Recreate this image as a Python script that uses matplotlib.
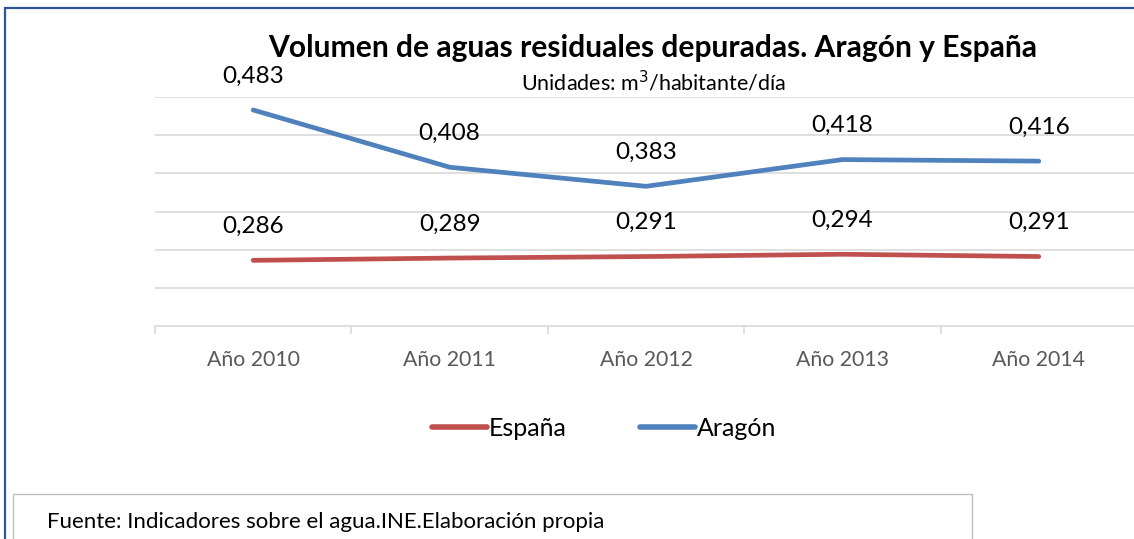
import matplotlib
matplotlib.use("Agg")
import matplotlib.pyplot as plt
from matplotlib.patches import Rectangle
from matplotlib.lines import Line2D

categories = ["Año 2010", "Año 2011", "Año 2012", "Año 2013", "Año 2014"]
espana = [0.286, 0.289, 0.291, 0.294, 0.291]
aragon = [0.483, 0.408, 0.383, 0.418, 0.416]
espana_labels = ["0,286", "0,289", "0,291", "0,294", "0,291"]
aragon_labels = ["0,483", "0,408", "0,383", "0,418", "0,416"]

plt.rcParams['font.family'] = ['Lato', 'DejaVu Sans']

W, H = 1134, 539
fig = plt.figure(figsize=(W / 100, H / 100), dpi=100)

def fx(px):
    return px / W

def fy(py):
    return 1 - py / H

# outer border
fig.add_artist(Rectangle((fx(5), fy(545)), fx(1140), (545 - 8) / H,
                         transform=fig.transFigure, fill=False,
                         edgecolor="#2f5597", linewidth=1.6))

ax = fig.add_axes([fx(155), fy(326), fx(1137) - fx(155), fy(97) - fy(326)])
ax.set_xlim(-0.5, 4.5)
ax.set_ylim(0.2, 0.5)
x = list(range(len(categories)))

ax.set_yticks([0.25, 0.3, 0.35, 0.4, 0.45, 0.5])
ax.yaxis.grid(True, color="#d9d9d9", linewidth=1.2)
ax.set_axisbelow(True)
ax.tick_params(axis="y", left=False, labelleft=False)
for s in ["left", "right", "top"]:
    ax.spines[s].set_visible(False)
ax.spines["bottom"].set_color("#d9d9d9")
ax.spines["bottom"].set_linewidth(1.2)

ax.set_xticks(x)
ax.set_xticklabels(categories, color="#595959", fontsize=15.3)
ax.tick_params(axis="x", which="major", length=0, pad=17)
ax.set_xticks([i - 0.5 for i in range(len(categories) + 1)], minor=True)
ax.tick_params(axis="x", which="minor", length=6, color="#d9d9d9", width=1.2)

ax.plot(x, espana, color="#c0504d", linewidth=3.4, solid_capstyle="round", clip_on=False)
ax.plot(x, aragon, color="#4f81bd", linewidth=3.4, solid_capstyle="round", clip_on=False)

for xi, v, lab in zip(x, espana, espana_labels):
    ax.annotate(lab, (xi, v), xytext=(0, 34), textcoords="offset pixels",
                ha="center", va="center", fontsize=17.5, color="#000000")
for xi, v, lab in zip(x, aragon, aragon_labels):
    ax.annotate(lab, (xi, v), xytext=(0, 34), textcoords="offset pixels",
                ha="center", va="center", fontsize=17.5, color="#000000",
                annotation_clip=False)

# title
fig.text(fx(653), fy(48), "Volumen de aguas residuales depuradas. Aragón y España",
         ha="center", va="center", fontsize=21.6, fontweight="bold")
fig.text(fx(653), fy(82), "Unidades: m$^3$/habitante/día",
         ha="center", va="center", fontsize=15.5)

# legend
handles = [Line2D([0], [0], color="#c0504d", linewidth=4, solid_capstyle="round"),
           Line2D([0], [0], color="#4f81bd", linewidth=4, solid_capstyle="round")]
fig.legend(handles, ["España", "Aragón"], loc="center", bbox_to_anchor=(fx(604), fy(428)),
           ncol=2, frameon=False, fontsize=18, handlelength=2.2, handletextpad=0.1,
           columnspacing=2.9)

# footer box
fig.add_artist(Rectangle((fx(13), fy(560)), fx(972) - fx(13), (560 - 494) / H,
                         transform=fig.transFigure, fill=False,
                         edgecolor="#bfbfbf", linewidth=1.0))
fig.text(fx(47), fy(522), "Fuente: Indicadores sobre el agua.INE.Elaboración propia",
         ha="left", va="center", fontsize=16)

fig.savefig("out.png", dpi=100)
